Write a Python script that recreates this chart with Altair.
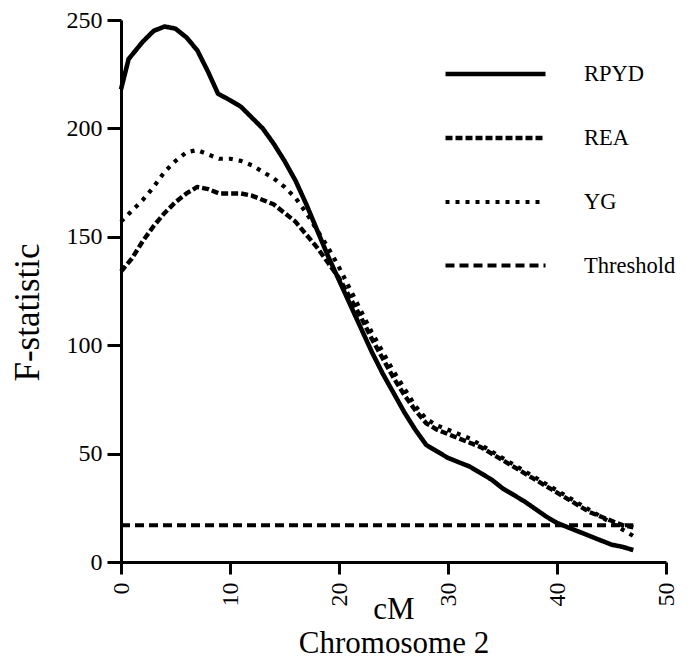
import altair as alt
import pandas as pd

# ---- data ----
rpyd_x = [0, 0.7, 2, 3, 4, 5, 6, 7, 8, 8.9, 10, 11, 12, 13, 14, 15, 16, 17, 18, 19, 20,
          21, 22, 23, 24, 25, 26, 27, 28, 29, 30, 31, 32, 33, 34, 35, 36, 37, 38, 39, 40,
          41, 42, 43, 44, 45, 46, 47]
rpyd_y = [218, 232, 240, 245, 247, 246, 242, 236, 226, 216, 213, 210, 205, 200, 193, 185, 176,
          165, 153, 141, 130, 119, 108, 97, 87, 78, 69, 61, 54, 51, 48, 46, 44, 41, 38, 34, 31,
          28, 24.5, 21, 18, 16, 14, 12, 10, 8, 7, 5.5]

grid_x = list(range(0, 48))
yg_y = [157, 162, 167, 173, 180, 185, 189, 190, 188, 186, 186, 185, 183, 180, 177, 173, 168,
        161, 153, 145, 136, 126, 116, 106, 97, 88, 80, 72, 66, 63, 61, 59, 57, 54, 51, 48, 45,
        42, 39, 36, 33, 30, 27, 24, 21, 18, 15, 12]
rea_y = [134, 140, 148, 155, 161, 166, 170, 173, 172, 170, 170, 170, 169, 167, 165, 161, 157,
         151, 145, 138, 131, 122, 113, 103, 94, 85, 77, 70, 64, 61, 59, 57, 55, 53, 50, 47, 44,
         41, 38, 35, 32, 29, 26, 23, 21, 19, 17, 16]
thr_x = [0, 47]
thr_y = [17, 17]

series_names = ["RPYD", "REA", "YG", "Threshold"]
x_ticks = [0, 10, 20, 30, 40, 50]
y_ticks = [0, 50, 100, 150, 200, 250]

rows = []
for x, y in zip(rpyd_x, rpyd_y):
    rows.append({"series": "RPYD", "cM": x, "F": y})
for x, y in zip(grid_x, rea_y):
    rows.append({"series": "REA", "cM": x, "F": y})
for x, y in zip(grid_x, yg_y):
    rows.append({"series": "YG", "cM": x, "F": y})
for x, y in zip(thr_x, thr_y):
    rows.append({"series": "Threshold", "cM": x, "F": y})
df = pd.DataFrame(rows)

FONT = "Liberation Serif"

legend = alt.Legend(
    title=None,
    orient="none",
    legendX=322,
    legendY=1.5,
    symbolType="stroke",
    symbolSize=10000,
    symbolStrokeColor="black",
    labelFont=FONT,
    labelFontSize=22.5,
    labelColor="black",
    labelOffset=36,
    rowPadding=0,
)

chart = alt.Chart(df).mark_line(color="black", strokeCap="butt", strokeJoin="round").encode(
    x=alt.X("cM:Q",
            scale=alt.Scale(domain=[0, 50], nice=False, zero=False),
            axis=alt.Axis(values=x_ticks, labelAngle=270, tickSize=12, labelPadding=8,
                          title=["cM", "Chromosome 2"], titleFontSize=31, titleLineHeight=34,
                          titleBaseline="alphabetic", titleY=56, titleFontWeight="normal")),
    y=alt.Y("F:Q",
            scale=alt.Scale(domain=[0, 250], nice=False),
            axis=alt.Axis(values=y_ticks, tickSize=14, labelPadding=5,
                          title="F-statistic", titleFontSize=35, titleFontWeight="normal",
                          titleX=-94, titleY=292, titleBaseline="middle", titleAlign="center")),
    strokeDash=alt.StrokeDash("series:N",
                              scale=alt.Scale(domain=series_names,
                                              range=[[1, 0], [7, 3], [4, 6], [9, 5]]),
                              legend=legend),
    strokeWidth=alt.StrokeWidth("series:N",
                                scale=alt.Scale(domain=series_names, range=[4.6, 4, 4, 3.5]),
                                legend=legend),
    order=alt.Order("series:N"),
).properties(
    width=545,
    height=542,
    background="white",
    autosize=alt.AutoSizeParams(type="none"),
    padding={"left": 113, "top": 12, "right": 22, "bottom": 97},
).configure_view(stroke=None).configure_axis(
    grid=False,
    domainColor="black",
    domainWidth=3,
    tickColor="black",
    tickWidth=3,
    labelColor="black",
    labelFont=FONT,
    labelFontSize=24,
    titleFont=FONT,
    titleColor="black",
)

chart.save("out.html", embed_options={"renderer": "svg", "actions": False})
